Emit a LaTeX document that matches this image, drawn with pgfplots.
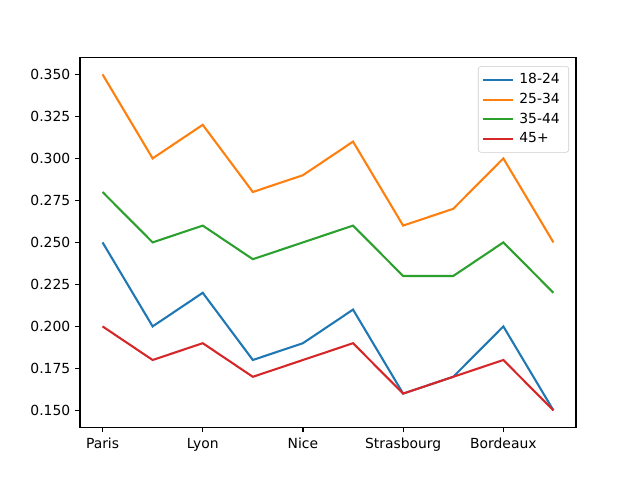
\documentclass[border=0pt]{standalone}
\usepackage{fontspec}
\setmainfont{DejaVu Sans}
\usepackage{pgfplots}
\pgfplotsset{compat=1.18}
\definecolor{tabblue}{HTML}{1F77B4}
\definecolor{taborange}{HTML}{FF7F0E}
\definecolor{tabgreen}{HTML}{2CA02C}
\definecolor{tabred}{HTML}{D62728}
\begin{document}
\begin{tikzpicture}
\useasboundingbox (0,0) rectangle (460.8pt,345.6pt);
\begin{axis}[
  at={(57.6pt,38.016pt)}, anchor=south west,
  scale only axis, width=357.12pt, height=266.11pt,
  xmin=-0.45, xmax=9.45, ymin=0.14, ymax=0.36,
  xtick={0,2,4,6,8},
  xticklabels={Paris,Lyon,Nice,Strasbourg,Bordeaux},
  ytick={0.15,0.175,0.2,0.225,0.25,0.275,0.3,0.325,0.35},
  yticklabel style={/pgf/number format/.cd,fixed,fixed zerofill,precision=3},
  /pgf/number format/assume math mode=true,
  tick align=outside, tick pos=left,
  major tick length=3.5pt,
  every tick/.style={black, line width=0.8pt},
  axis line style={line width=0.8pt},
  xticklabel style={yshift=-1pt},
  legend style={at={(0.986,0.977)}, anchor=north east, draw=black!20,
    rounded corners=2pt, font=\fontsize{10}{12}\selectfont,
    row sep=1.3pt, inner xsep=3pt, inner ysep=3.2pt,
    nodes={inner xsep=3.5pt}},
  legend cell align=left,
  legend image code/.code={\draw[#1, line width=1.5pt] (0pt,0pt) -- (21.6pt,0pt);},
  every axis plot/.append style={line width=1.5pt, mark=none},
]
\addplot[tabblue] coordinates {(0,0.25) (1,0.20) (2,0.22) (3,0.18) (4,0.19) (5,0.21) (6,0.16) (7,0.17) (8,0.20) (9,0.15)};
\addlegendentry{18-24}
\addplot[taborange] coordinates {(0,0.35) (1,0.30) (2,0.32) (3,0.28) (4,0.29) (5,0.31) (6,0.26) (7,0.27) (8,0.30) (9,0.25)};
\addlegendentry{25-34}
\addplot[tabgreen] coordinates {(0,0.28) (1,0.25) (2,0.26) (3,0.24) (4,0.25) (5,0.26) (6,0.23) (7,0.23) (8,0.25) (9,0.22)};
\addlegendentry{35-44}
\addplot[tabred] coordinates {(0,0.20) (1,0.18) (2,0.19) (3,0.17) (4,0.18) (5,0.19) (6,0.16) (7,0.17) (8,0.18) (9,0.15)};
\addlegendentry{45+}
\end{axis}
\end{tikzpicture}
\end{document}
